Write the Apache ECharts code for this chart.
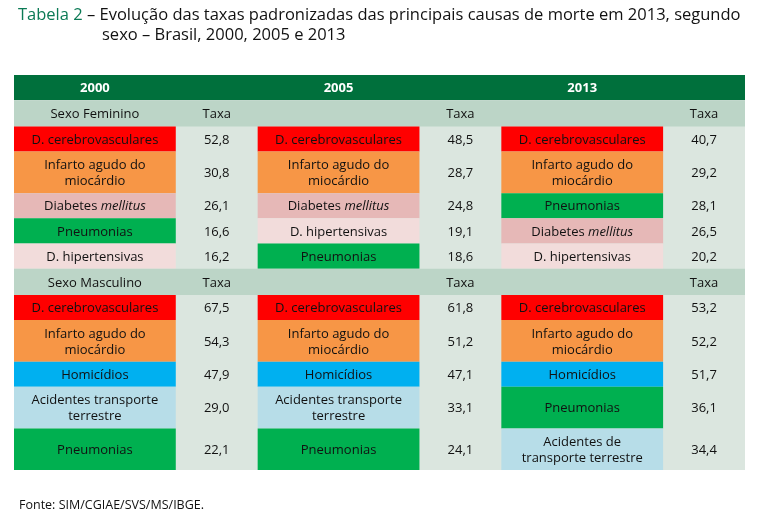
<!DOCTYPE html>
<html>
<head>
<meta charset="utf-8">
<script src="https://cdn.jsdelivr.net/npm/echarts@6/dist/echarts.min.js"></script>
<style>
html,body{margin:0;padding:0;background:#fff;}
#chart{width:761px;height:523px;}
</style>
</head>
<body>
<div id="chart"></div>
<script>
// ---------- DATA ----------
const years = ['2000', '2005', '2013'];
const sexLabels = ['Sexo Feminino', 'Sexo Masculino'];
const rateHeader = 'Taxa';

const causesF2000 = ['D. cerebrovasculares', 'Infarto agudo do\nmiocárdio', 'Diabetes mellitus', 'Pneumonias', 'D. hipertensivas'];
const taxasF2000 = [52.8, 30.8, 26.1, 16.6, 16.2];
const causesF2005 = ['D. cerebrovasculares', 'Infarto agudo do\nmiocárdio', 'Diabetes mellitus', 'D. hipertensivas', 'Pneumonias'];
const taxasF2005 = [48.5, 28.7, 24.8, 19.1, 18.6];
const causesF2013 = ['D. cerebrovasculares', 'Infarto agudo do\nmiocárdio', 'Pneumonias', 'Diabetes mellitus', 'D. hipertensivas'];
const taxasF2013 = [40.7, 29.2, 28.1, 26.5, 20.2];

const causesM2000 = ['D. cerebrovasculares', 'Infarto agudo do\nmiocárdio', 'Homicídios', 'Acidentes transporte\nterrestre', 'Pneumonias'];
const taxasM2000 = [67.5, 54.3, 47.9, 29.0, 22.1];
const causesM2005 = ['D. cerebrovasculares', 'Infarto agudo do\nmiocárdio', 'Homicídios', 'Acidentes transporte\nterrestre', 'Pneumonias'];
const taxasM2005 = [61.8, 51.2, 47.1, 33.1, 24.1];
const causesM2013 = ['D. cerebrovasculares', 'Infarto agudo do\nmiocárdio', 'Homicídios', 'Pneumonias', 'Acidentes de\ntransporte terrestre'];
const taxasM2013 = [53.2, 52.2, 51.7, 36.1, 34.4];

const titleMain = 'Tabela 2';
const titleRest = '– Evolução das taxas padronizadas das principais causas de morte em 2013, segundo';
const titleLine2 = 'sexo – Brasil, 2000, 2005 e 2013';
const sourceText = 'Fonte: SIM/CGIAE/SVS/MS/IBGE.';

// ---------- STYLES ----------
const FONT = '"Open Sans", "Noto Sans", sans-serif';
const causeColor = {
  'D. cerebrovasculares': '#ff0000',
  'Infarto agudo do\nmiocárdio': '#f79646',
  'Diabetes mellitus': '#e6b8b7',
  'Pneumonias': '#00b050',
  'D. hipertensivas': '#f2dcdb',
  'Homicídios': '#00b0f0',
  'Acidentes transporte\nterrestre': '#b7dde8',
  'Acidentes de\ntransporte terrestre': '#b7dde8'
};
const headerColor = '#00703c';
const sexRowColor = '#bcd5c7';
const tableBg = '#dbe6df';
const textColor = '#111111';
const cellFont = 13;
const titleFont = 16.5;
const labelFrac = 162 / 244;   // share of each year block used by the cause column
const doubleRow = 1.65;        // height of a two-line row, in row units

// ---------- BUILD TABLE ----------
const sections = [
  { label: sexLabels[0], causes: [causesF2000, causesF2005, causesF2013], rates: [taxasF2000, taxasF2005, taxasF2013] },
  { label: sexLabels[1], causes: [causesM2000, causesM2005, causesM2013], rates: [taxasM2000, taxasM2005, taxasM2013] }
];
const fmt = v => v.toFixed(1).replace('.', ',');
const richText = s => s.replace('mellitus', '{i|mellitus}');

const items = [];
let y = 0;
const headerY0 = y; y += 1;
items.push({ x0: 0, x1: 3, y0: headerY0, y1: y, fill: headerColor });
years.forEach((yr, i) => items.push({ x0: i, x1: i + labelFrac, y0: headerY0, y1: y, text: yr, color: '#ffffff', weight: 'bold' }));
const bgIndex = items.length;
items.push({ x0: 0, x1: 3, y0: 1, y1: 1, fill: tableBg });
sections.forEach(sec => {
  const sy0 = y; y += 1.04;
  items.push({ x0: 0, x1: 3, y0: sy0, y1: y, fill: sexRowColor });
  items.push({ x0: 0, x1: labelFrac, y0: sy0, y1: y, text: sec.label });
  years.forEach((yr, i) => items.push({ x0: i + labelFrac, x1: i + 1, y0: sy0, y1: y, text: rateHeader }));
  const nRows = sec.causes[0].length;
  for (let r = 0; r < nRows; r++) {
    const multi = sec.causes.some(c => c[r].indexOf('\n') >= 0);
    const ry0 = y; y += multi ? doubleRow : 1;
    years.forEach((yr, i) => {
      const c = sec.causes[i][r];
      items.push({ x0: i, x1: i + labelFrac, y0: ry0, y1: y, fill: causeColor[c], text: richText(c) });
      items.push({ x0: i + labelFrac, x1: i + 1, y0: ry0, y1: y, text: fmt(sec.rates[i][r]) });
    });
  }
});
items[bgIndex].y1 = y;
const total = y;

const chart = echarts.init(document.getElementById('chart'));
chart.setOption({
  animation: false,
  backgroundColor: '#ffffff',
  title: [
    {
      left: 13, top: 2,
      text: '{g|' + titleMain + '} ' + titleRest,
      textStyle: {
        fontFamily: FONT, fontSize: titleFont, fontWeight: 'normal', color: textColor,
        rich: { g: { fontFamily: FONT, fontSize: titleFont, color: '#0b7a55' } }
      }
    },
    {
      left: 97, top: 22,
      text: titleLine2,
      textStyle: { fontFamily: FONT, fontSize: titleFont, fontWeight: 'normal', color: textColor }
    },
    {
      left: 14, top: 494,
      text: sourceText,
      textStyle: { fontFamily: FONT, fontSize: 12.5, fontWeight: 'normal', color: textColor }
    }
  ],
  grid: { left: 14, right: 16, top: 75, bottom: 53 },
  xAxis: { type: 'value', min: 0, max: 3, show: false },
  yAxis: { type: 'value', min: 0, max: total, inverse: true, show: false },
  series: [{
    type: 'custom',
    coordinateSystem: 'cartesian2d',
    clip: false,
    dimensions: ['x0', 'y0', 'x1', 'y1'],
    encode: { x: [0, 2], y: [1, 3] },
    data: items.map(d => [d.x0, d.y0, d.x1, d.y1]),
    renderItem: function (params, api) {
      const d = items[params.dataIndex];
      const p0 = api.coord([api.value(0), api.value(1)]);
      const p1 = api.coord([api.value(2), api.value(3)]);
      const children = [];
      if (d.fill) {
        children.push({
          type: 'rect',
          shape: { x: p0[0], y: p0[1], width: p1[0] - p0[0], height: p1[1] - p0[1] },
          style: { fill: d.fill }
        });
      }
      if (d.text) {
        children.push({
          type: 'text',
          style: {
            text: d.text,
            x: (p0[0] + p1[0]) / 2,
            y: (p0[1] + p1[1]) / 2 + 1,
            align: 'center',
            verticalAlign: 'middle',
            fill: d.color || textColor,
            fontFamily: FONT,
            fontSize: cellFont,
            fontWeight: d.weight || 'normal',
            lineHeight: 16,
            rich: { i: { fontFamily: FONT, fontSize: cellFont, fontStyle: 'italic', fill: textColor, lineHeight: 16 } }
          }
        });
      }
      return { type: 'group', children: children };
    }
  }]
});
</script>
</body>
</html>
